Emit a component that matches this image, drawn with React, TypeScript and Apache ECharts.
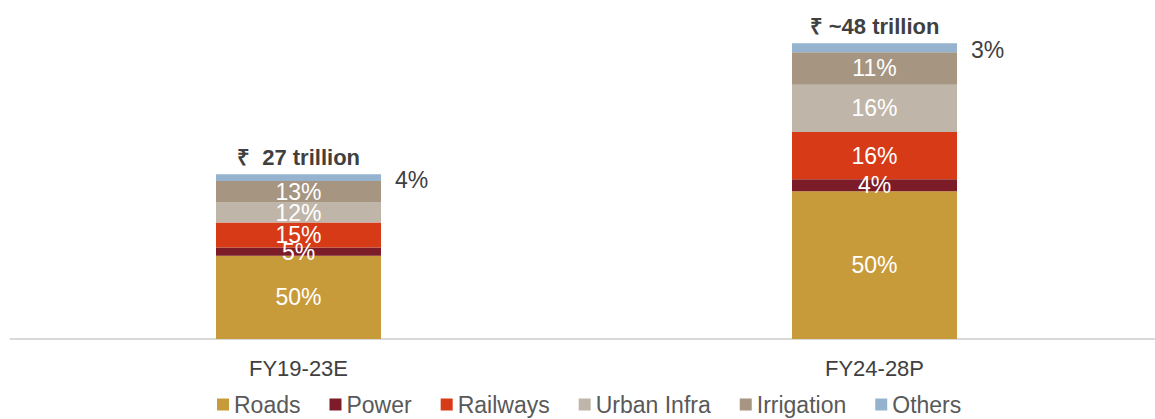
import React, { useEffect, useRef } from "react";
import * as echarts from "echarts";

const categories = ["FY19-23E", "FY24-28P"];
const totals = [27, 48];
const totalLabels = ["₹  27 trillion", "₹ ~48 trillion"];
const seriesNames = ["Roads", "Power", "Railways", "Urban Infra", "Irrigation", "Others"];
const roadsPct = [50, 50];
const powerPct = [5, 4];
const railwaysPct = [15, 16];
const urbanPct = [12, 16];
const irrigationPct = [13, 11];
const othersPct = [4, 3];
const colors = ["#C89B3A", "#7B1C28", "#D63A17", "#BFB6A9", "#A59581", "#95B3CF"];

const FONT = "'Liberation Sans', Arial, sans-serif";

export default function App() {
  const ref = useRef<HTMLDivElement>(null);
  useEffect(() => {
    if (!ref.current) return;
    const chart = echarts.init(ref.current, undefined, { renderer: "svg" });
    const pcts = [roadsPct, powerPct, railwaysPct, urbanPct, irrigationPct, othersPct];
    const series: any[] = pcts.map((p, i) => {
      const isOthers = i === pcts.length - 1;
      return {
        name: seriesNames[i],
        type: "bar",
        stack: "total",
        barWidth: 165,
        itemStyle: { color: colors[i] },
        data: p.map((v, j) => (v * totals[j]) / 100),
        label: {
          show: true,
          position: isOthers ? "right" : "inside",
          distance: 14,
          offset: isOthers ? [0, 2] : [0, 0],
          color: isOthers ? "#404040" : "#ffffff",
          fontFamily: FONT,
          fontSize: 23,
          formatter: (prm: any) => `${p[prm.dataIndex]}%`,
        },
      };
    });
    series.push({
      name: "Total",
      type: "bar",
      stack: "total",
      barWidth: 165,
      data: totals.map(() => 0),
      itemStyle: { color: "transparent" },
      label: {
        show: true,
        position: "top",
        distance: 6,
        color: "#404040",
        fontFamily: FONT,
        fontWeight: "bold",
        fontSize: 22,
        formatter: (prm: any) => totalLabels[prm.dataIndex],
      },
    });
    chart.setOption({
      animation: false,
      textStyle: { fontFamily: FONT },
      grid: { left: 10.5, width: 1152, top: 31, bottom: 80 },
      legend: {
        data: seriesNames,
        top: 388,
        left: 212,
        itemWidth: 12,
        itemHeight: 12,
        itemGap: 29,
        icon: "rect",
        textStyle: { fontFamily: FONT, fontSize: 23, color: "#595959" },
      },
      xAxis: {
        type: "category",
        data: categories,
        axisLine: { lineStyle: { color: "#D9D9D9", width: 2 } },
        axisTick: { show: false },
        axisLabel: { color: "#404040", fontSize: 22, fontFamily: FONT, margin: 18 },
      },
      yAxis: {
        type: "value",
        min: 0,
        max: 50,
        show: false,
        splitLine: { show: false },
      },
      series,
    });
    return () => chart.dispose();
  }, []);
  return (
    <div
      style={{ position: "absolute", left: 0, top: 0, width: 1155, height: 419, overflow: "hidden" }}
    >
      <div ref={ref} style={{ width: 1170, height: 419 }} />
    </div>
  );
}
